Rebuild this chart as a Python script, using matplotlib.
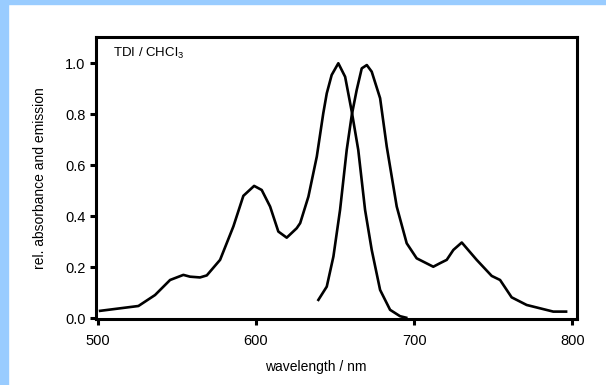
import matplotlib
matplotlib.use("Agg")
import matplotlib.pyplot as plt
from matplotlib.patches import Rectangle

# absorption spectrum
abs_wl = [501.6, 525.8, 536.3, 545.8, 554.2, 558.4, 564.7, 569.0, 577.4, 585.8,
          592.1, 598.9, 603.7, 609.0, 614.2, 619.5, 625.8, 628.0, 633.2, 638.5,
          642.6, 644.8, 647.9, 652.1, 656.4, 660.6, 664.7, 669.0, 673.2, 678.5,
          684.8, 691.1, 695.0]
abs_val = [0.029, 0.048, 0.091, 0.150, 0.170, 0.163, 0.160, 0.168, 0.229, 0.360,
           0.480, 0.519, 0.503, 0.438, 0.340, 0.316, 0.353, 0.373, 0.477, 0.634,
           0.804, 0.882, 0.954, 1.000, 0.947, 0.810, 0.660, 0.425, 0.268, 0.111,
           0.033, 0.008, 0.002]

# emission spectrum
em_wl = [639.5, 644.8, 649.0, 653.2, 657.4, 660.6, 663.7, 666.9, 670.1, 673.2,
         678.5, 682.7, 689.0, 695.3, 701.6, 712.1, 716.4, 720.6, 724.8, 730.1,
         739.5, 749.0, 754.3, 761.6, 771.1, 779.5, 787.9, 796.0]
em_val = [0.072, 0.124, 0.242, 0.425, 0.660, 0.797, 0.895, 0.980, 0.993, 0.967,
          0.863, 0.673, 0.438, 0.294, 0.235, 0.202, 0.216, 0.229, 0.268, 0.297,
          0.229, 0.166, 0.150, 0.082, 0.052, 0.039, 0.026, 0.026]

x_ticks = [500, 600, 700, 800]
y_ticks = [0.0, 0.2, 0.4, 0.6, 0.8, 1.0]

plt.rcParams["font.family"] = ["Liberation Sans Narrow", "Liberation Sans", "DejaVu Sans"]

fig = plt.figure(figsize=(6.06, 3.85), dpi=100)
fig.patch.set_facecolor("white")
# light blue frame pieces on left and top
fig.patches.append(Rectangle((0, 0), 8 / 606, 1, transform=fig.transFigure,
                             color="#99ccff", zorder=0))
fig.patches.append(Rectangle((0, 1 - 4 / 385), 1, 4 / 385, transform=fig.transFigure,
                             color="#99ccff", zorder=0))

ax = fig.add_axes([96 / 606, 1 - 319 / 385, 481 / 606, 282 / 385])
ax.plot(abs_wl, abs_val, color="black", lw=1.9, solid_joinstyle="round")
ax.plot(em_wl, em_val, color="black", lw=1.9, solid_joinstyle="round")

ax.set_xlim(499.0, 802.9)
ax.set_ylim(-0.003, 1.103)
ax.set_xticks(x_ticks)
ax.set_yticks(y_ticks)
ax.set_xticklabels([str(v) for v in x_ticks])
ax.set_yticklabels([f"{v:.1f}" for v in y_ticks])

for s in ax.spines.values():
    s.set_linewidth(2.2)
ax.tick_params(direction="out", length=4.5, width=2.2, labelsize=10.5)
ax.tick_params(axis="x", pad=6)
ax.tick_params(axis="y", pad=3)

ax.set_xlabel("wavelength / nm", fontsize=10, labelpad=9, x=0.457)
ax.set_ylabel("rel. absorbance and emission", fontsize=10, labelpad=13)

ax.text(0.036, 0.94, r"TDI / CHCl$_{\mathregular{3}}$", transform=ax.transAxes,
        fontsize=9.5, va="center", ha="left")

fig.savefig("out.png", dpi=100)
